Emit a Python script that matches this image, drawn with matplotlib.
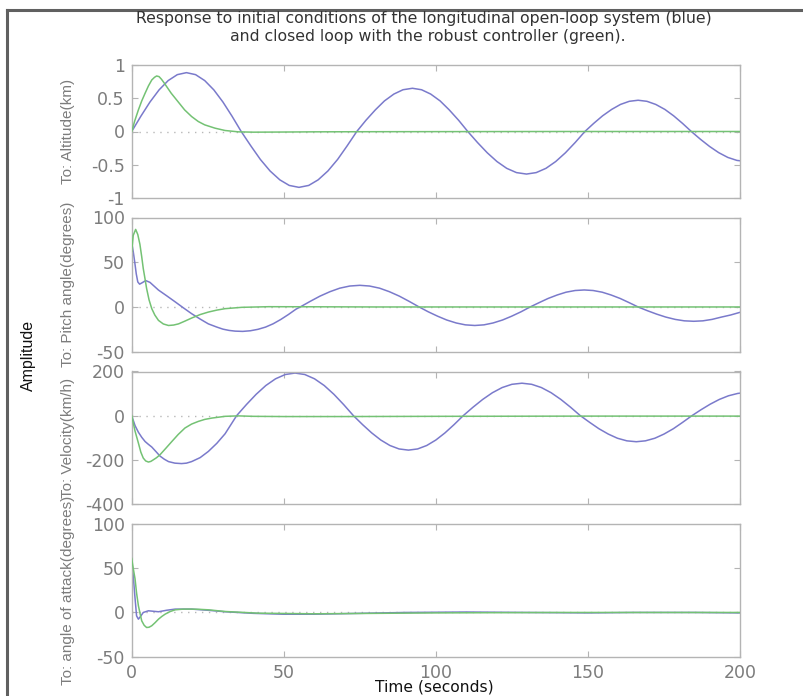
import matplotlib
matplotlib.use("Agg")
import matplotlib.pyplot as plt
from matplotlib.lines import Line2D

plt.rcParams['font.family'] = ['DejaVu Sans']

# ---------------- data ----------------
title_lines = ["Response to initial conditions of the longitudinal open-loop system (blue)",
               "and closed loop with the robust controller (green)."]
ylabels = ["To: Altitude(km)", "To: Pitch angle(degrees)", "To: Velocity(km/h)",
           "To: angle of attack(degrees)"]
ylims = [(-1, 1), (-50, 100), (-400, 200), (-50, 100)]
yticks = [[-1, -0.5, 0, 0.5, 1], [-50, 0, 50, 100], [-400, -200, 0, 200], [-50, 0, 50, 100]]
ytick_labels = [["-1", "-0.5", "0", "0.5", "1"], ["-50", "0", "50", "100"],
                ["-400", "-200", "0", "200"], ["-50", "0", "50", "100"]]
xticks = [0, 50, 100, 150, 200]

# Altitude (open loop = blue, closed loop = green)
t_alt_ol = [0, 3, 6, 9, 12, 15, 18, 21, 24, 27, 30, 33, 36,
            39.2, 42.3, 45.5, 48.7, 51.8, 55, 58.2, 61.3, 64.5, 67.7, 70.8, 74,
            77.0, 80.1, 83.1, 86.2, 89.2, 92.3, 95.3, 98.3, 101.4, 104.4, 107.5, 110.5,
            113.7, 116.9, 120.1, 123.3, 126.5, 129.8, 133.0, 136.2, 139.4, 142.6, 145.8, 149,
            151.9, 154.8, 157.8, 160.7, 163.6, 166.5, 169.4, 172.3, 175.3, 178.2, 181.1, 184,
            187, 190, 193, 196, 199, 200]
v_alt_ol = [0, 0.229, 0.443, 0.626, 0.766, 0.855, 0.885, 0.855, 0.766, 0.626, 0.443, 0.229, 0,
            -0.218, -0.42, -0.594, -0.727, -0.811, -0.84, -0.811, -0.727, -0.594, -0.42, -0.218, 0,
            0.168, 0.325, 0.46, 0.563, 0.628, 0.65, 0.628, 0.563, 0.46, 0.325, 0.168, 0,
            -0.166, -0.32, -0.452, -0.554, -0.618, -0.64, -0.618, -0.554, -0.452, -0.32, -0.166, 0,
            0.122, 0.235, 0.332, 0.407, 0.454, 0.47, 0.454, 0.407, 0.332, 0.235, 0.122, 0,
            -0.117, -0.225, -0.318, -0.39, -0.435, -0.44]
t_alt_cl = [0, 1, 2.2, 3.3, 4.4, 5.5, 6.6, 7.5, 8.2, 9, 9.8, 10.6, 11.8, 13, 15.2, 17.4, 19.7,
            21.9, 24, 27.4, 30.7, 35, 40, 50, 60, 80, 100, 120, 140, 160, 180, 200]
v_alt_cl = [0, 0.16, 0.325, 0.46, 0.575, 0.685, 0.775, 0.815, 0.835, 0.825, 0.785, 0.735, 0.655,
            0.575, 0.45, 0.325, 0.225, 0.15, 0.10, 0.05, 0.015, -0.005, -0.01, -0.008, -0.005,
            -0.003, -0.002, -0.001, 0, 0, 0, 0]

# Pitch angle
t_pit_ol = [0, 0.5, 1.0, 1.5, 2.0, 2.6, 3.4, 4.6, 6.0, 8.8, 11.5, 14.3, 17, 19.7, 22.5, 25.2,
            28, 30, 32, 34, 36.5, 39, 41.5, 44, 46.5, 49, 51.5, 54, 55.4,
            58.7, 61.9, 65.2, 68.4, 71.7, 75.0, 78.2, 81.5, 84.7, 88.0, 91.2, 94.5,
            97.5, 100.6, 103.6, 106.7, 109.7, 112.8, 115.8, 118.8, 121.9, 124.9, 128.0, 131,
            134.0, 136.9, 139.9, 142.8, 145.8, 148.8, 151.7, 154.7, 157.6, 160.6, 163.5, 166.5,
            169.5, 172.6, 175.6, 178.7, 181.7, 184.8, 187.8, 190.8, 193.9, 196.9, 200]
v_pit_ol = [72, 62, 50, 37, 28, 25.5, 27, 29.5, 27.5, 18.9, 12.5, 5.7, -1, -7.5, -13.5, -18.9,
            -22.5, -24.8, -26.2, -27.0, -27.3, -26.6, -25, -22.5, -18.8, -14, -8.5, -2.5, 0,
            6.3, 12.1, 17.1, 21.0, 23.4, 24.2, 23.4, 21.0, 17.1, 12.1, 6.3, 0,
            -5.4, -10.35, -14.6, -17.9, -20.0, -20.7, -20.0, -17.9, -14.6, -10.35, -5.4, 0,
            4.9, 9.5, 13.4, 16.5, 18.4, 19, 18.4, 16.5, 13.4, 9.5, 4.9, 0,
            -4.1, -8, -11.3, -13.9, -15.5, -16, -15.5, -13.9, -11.3, -9, -6]
t_pit_cl = [0, 0.5, 1.3, 2.0, 2.7, 3.3, 3.8, 4.4, 4.9, 5.7, 6.6, 7.6, 8.8, 10.4, 12.1, 13.8,
            15.4, 17.5, 19.7, 22.5, 25.2, 28, 30.7, 36.2, 45, 60, 80, 100, 150, 200]
v_pit_cl = [62, 80, 86.7, 81, 70, 56, 43, 31, 20.7, 8, -1.9, -9, -15, -19, -20.7, -20.2, -18.9,
            -15.8, -12.4, -8.5, -5.7, -3.5, -1.9, -0.4, 0.3, 0.2, 0, 0, 0, 0]

# Velocity
t_vel_ol = [0, 1.1, 2.2, 3.3, 4.4, 5.5, 6.6, 8, 9.3, 10.7, 12.1, 14.2, 16.4, 18, 19.7, 22.5,
            25.2, 28, 30.7, 32.6, 34.5,
            37.7, 40.9, 44.1, 47.3, 50.5, 53.7, 56.9, 60.1, 63.3, 66.5, 69.7, 72.9,
            75.9, 78.9, 81.9, 84.9, 87.9, 91.0, 94.0, 97.0, 100.0, 103.0, 106.0, 109,
            112.2, 115.4, 118.6, 121.8, 125.0, 128.3, 131.5, 134.7, 137.9, 141.1, 144.3, 147.5,
            150.6, 153.6, 156.7, 159.7, 162.8, 165.9, 168.9, 172.0, 175.0, 178.1, 181.1, 184.2,
            187.2, 190.2, 193.2, 196.2, 199.2, 200]
v_vel_ol = [0, -45, -75, -98, -117, -130, -142, -163, -183, -197, -208, -215, -217, -215, -208,
            -190, -162, -125, -82, -41, 0,
            50, 96.5, 136.5, 167, 186.4, 193, 186.4, 167, 136.5, 96.5, 50, 0,
            -40.4, -78, -110.3, -135.1, -150.7, -156, -150.7, -135.1, -110.3, -78, -40.4, 0,
            38.1, 73.5, 103.9, 127.3, 142, 147, 142, 127.3, 103.9, 73.5, 38.1, 0,
            -30.6, -59, -83.4, -102.2, -114, -118, -114, -102.2, -83.4, -59, -30.6, 0,
            27, 52, 73.5, 90, 100.5, 102]
t_vel_cl = [0, 1.1, 2.2, 3.0, 3.8, 4.6, 5.5, 6.3, 7.1, 8.2, 9.3, 11.2, 13.2, 15.3, 17.5, 19.7,
            21.9, 24, 26.3, 30.7, 35, 40, 50, 70, 100, 150, 200]
v_vel_cl = [0, -70, -124, -165, -192, -205, -210, -207, -200, -190, -177, -148, -117, -85, -56,
            -38, -26, -17, -11, -3, -1, -3, -4, -4, -3, -2, -2]

# Angle of attack
t_aoa_ol = [0, 0.5, 1.0, 1.6, 2.2, 3.0, 3.8, 5.5, 8.8, 11.5, 14.3, 19.7, 25, 30.7, 40, 50, 60,
            75, 90, 110, 130, 150, 165, 185, 200]
v_aoa_ol = [59, 42, 20, -3.8, -7.6, -4, 0, 1.9, 0.8, 2.5, 3.8, 3.8, 2.5, 0.8, -1, -2, -2, -1,
            0, 0.5, 0, -0.5, 0, 0, -0.5]
t_aoa_cl = [0, 0.5, 1.1, 1.6, 2.2, 2.8, 3.3, 4.1, 4.9, 5.7, 6.6, 7.7, 8.8, 9.9, 11, 12.6, 14.3,
            17, 19.7, 22.5, 25.2, 30.7, 41.7, 60, 80, 100, 140, 200]
v_aoa_cl = [61, 50, 38, 22, 7.6, -2, -9.5, -14.5, -17, -16.7, -15, -11.5, -7.6, -4.5, -1.9, 1,
            3, 3.8, 3.8, 3.5, 3, 1.1, -0.8, -1.5, -1, -0.5, 0, 0]

series = [((t_alt_ol, v_alt_ol), (t_alt_cl, v_alt_cl)),
          ((t_pit_ol, v_pit_ol), (t_pit_cl, v_pit_cl)),
          ((t_vel_ol, v_vel_ol), (t_vel_cl, v_vel_cl)),
          ((t_aoa_ol, v_aoa_ol), (t_aoa_cl, v_aoa_cl))]

# ---------------- style ----------------
BLUE = '#7a7acb'
GREEN = '#74c274'
SPINE = '#b4b4b4'
TXT = '#7c7c7c'

fig = plt.figure(figsize=(8.04, 6.96), dpi=100)
W, H = 804.0, 696.0
left_px, right_px = 131.7, 740.0
boxes = [(65, 198), (217.5, 351.7), (371.5, 504), (524, 656.7)]

axes = []
for i, (top, bot) in enumerate(boxes):
    ax = fig.add_axes([left_px / W, 1 - bot / H, (right_px - left_px) / W, (bot - top) / H])
    (to, vo), (tc, vc) = series[i]
    ax.axhline(0, color='#b8b8b8', lw=1.0, ls=(0, (1, 4)), zorder=1)
    ax.plot(to, vo, color=BLUE, lw=1.1, zorder=2, solid_joinstyle='round')
    ax.plot(tc, vc, color=GREEN, lw=1.1, zorder=3, solid_joinstyle='round')
    ax.set_xlim(0, 200)
    ax.set_ylim(*ylims[i])
    ax.set_yticks(yticks[i])
    ax.set_yticklabels(ytick_labels[i])
    ax.set_xticks(xticks)
    for s in ax.spines.values():
        s.set_color(SPINE)
        s.set_linewidth(1.0)
    ax.tick_params(direction='in', top=True, right=True, length=4, width=0.8,
                   color=SPINE, labelcolor=TXT, labelsize=12.5, pad=5)
    if i < 3:
        ax.tick_params(labelbottom=False)
    ax.set_ylabel(ylabels[i], fontsize=11, color=TXT, family='Liberation Sans')
    ax.yaxis.set_label_coords(-0.094, 0.5)
    axes.append(ax)

fig.text(434 / W, 1 - 687.5 / H, "Time (seconds)", ha='center', va='center',
         fontsize=11.2, color='#111111')

fig.text(424 / W, 1 - 18 / H, title_lines[0], ha='center', va='center', fontsize=11.3,
         color='#333333')
fig.text(428 / W, 1 - 36 / H, title_lines[1], ha='center', va='center', fontsize=11.3,
         color='#333333')
fig.text(28 / W, 1 - 355 / H, "Amplitude", ha='center', va='center', rotation=90,
         fontsize=11.5, color='#111111', family='Liberation Sans')

# outer frame (left and top edges)
fig.add_artist(Line2D([7 / W, 7 / W], [0, 1 - 10 / H], color='#606060', lw=2.2,
                      transform=fig.transFigure))
fig.add_artist(Line2D([7 / W, 1], [1 - 10 / H, 1 - 10 / H], color='#606060', lw=2.2,
                      transform=fig.transFigure))

fig.savefig("out.png", dpi=100)
